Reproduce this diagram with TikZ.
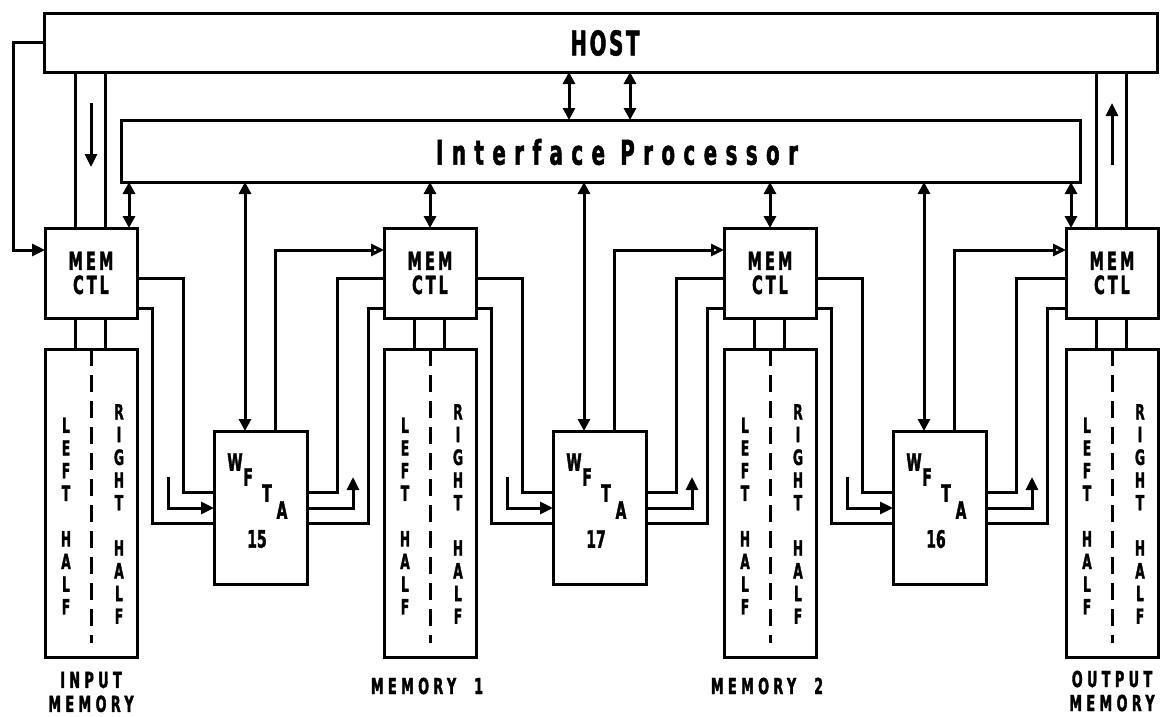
\documentclass[tikz,border=0pt]{standalone}
\usepackage{fontspec}
\newfontfamily\plotfont[FakeStretch=0.58, FakeBold=1.6]{DejaVu Sans}
\usetikzlibrary{arrows.meta, calc}

\tikzset{
  unit/.style={draw, inner sep=0pt, outer sep=0pt, anchor=north west},
  ctlbox/.style={unit, minimum width=92pt, minimum height=90pt, align=center,
    font=\plotfont\bfseries\fontsize{25}{24}\selectfont\addfontfeature{LetterSpace=12}},
  membox/.style={unit, minimum width=92pt, minimum height=308pt},
  wftabox/.style={unit, minimum width=93pt, minimum height=153pt},
  bigtext/.style={inner sep=0pt,
    font=\plotfont\bfseries\fontsize{34}{40}\selectfont\addfontfeature{LetterSpace=25}},
  hosttext/.style={inner sep=0pt,
    font=\plotfont\bfseries\fontsize{34}{40}\selectfont\addfontfeature{LetterSpace=8}},
  memlabel/.style={inner sep=0pt, align=center,
    font=\plotfont\bfseries\fontsize{22}{24}\selectfont\addfontfeature{LetterSpace=20}},
  vtext/.style={inner sep=0pt, align=center,
    font=\plotfont\bfseries\fontsize{21}{22.7}\selectfont},
  wlabel/.style={inner sep=0pt, font=\plotfont\bfseries\fontsize{24}{26}\selectfont},
  divider/.style={dash pattern=on 17pt off 9pt},
  tip/.style={-{Triangle[length=13pt,width=12pt]}},
  otip/.style={-{Triangle[open,length=13pt,width=12pt]}},
  dtip/.style={{Triangle[length=12pt,width=12pt]}-{Triangle[length=12pt,width=12pt]}}
}

\begin{document}
\begin{tikzpicture}[x=1pt, y=-1pt, line width=3pt]
    \useasboundingbox (0,0) rectangle (1163,716);

    % Host and interface processor buses
    \node[unit, minimum width=1113pt, minimum height=59pt] (host) at (44,13) {};
    \node[hosttext] (hostname) at (605,43) {HOST};
    \node[unit, minimum width=959pt, minimum height=62pt] (ip) at (121,120) {};
    \node[bigtext] (ipname) at (617,152) {Interface Processor};

    % Host <-> interface processor
    \coordinate (hp1) at ([xshift=-31.5pt]host.south);
    \coordinate (hp2) at ([xshift=29.5pt]host.south);
    \draw[dtip] (hp1) -- (hp1 |- ip.north);
    \draw[dtip] (hp2) -- (hp2 |- ip.north);

    % Memory controllers with their two-half memories
    \foreach \i/\L in {1/45, 2/384, 3/724, 4/1066} {
        \node[ctlbox] (c\i) at (\L,228) {MEM\\CTL};
        \node[membox] (m\i) at (\L,349) {};
        \draw[divider] (m\i.north) -- ([yshift=14pt]m\i.south);
        \node[vtext] (m\i l) at ([xshift=21pt,yshift=-13pt]m\i.west) {L\\E\\F\\T\\[22.7pt]H\\A\\L\\F};
        \node[vtext] (m\i r) at ([xshift=74pt,yshift=-11pt]m\i.west) {R\\I\\G\\H\\T\\[22.7pt]H\\A\\L\\F};
        \draw ([xshift=30pt]c\i.south west) -- ([xshift=30pt]m\i.north west);
        \draw ([xshift=60pt]c\i.south west) -- ([xshift=60pt]m\i.north west);
    }

    % Memory names
    \node[memlabel] (lbl1) at ([yshift=-35pt]m1.south) {INPUT\\MEMORY};
    \node[memlabel] (lbl2) at ([xshift=-3pt,yshift=-29pt]m2.south) {MEMORY\hspace{18pt}1};
    \node[memlabel] (lbl3) at ([xshift=-3pt,yshift=-29pt]m3.south) {MEMORY\hspace{18pt}2};
    \node[memlabel] (lbl4) at ([yshift=-34pt]m4.south) {OUTPUT\\MEMORY};

    % Controllers <-> interface processor
    \coordinate (cp1) at ([xshift=-8pt]c1.north east);
    \coordinate (cp2) at (c2.north);
    \coordinate (cp3) at (c3.north);
    \coordinate (cp4) at ([xshift=5pt]c4.north west);
    \foreach \k in {1,...,4}
        \draw[dtip] (cp\k) -- (cp\k |- ip.south);

    % Host buses into the input memory and out of the output memory
    \foreach \k in {1,4} {
        \foreach \d in {30,60} {
            \coordinate (hb) at ([xshift=\d pt]c\k.north west);
            \draw (hb) -- (hb |- host.south);
        }
    }
    \path (c1.north |- host.south) ++(0,31) coordinate (inA) ++(0,64) coordinate (inB);
    \draw[tip] (inA) -- (inB);
    \path (c4.north |- host.south) ++(0,31) coordinate (outB) ++(0,62) coordinate (outA);
    \draw[tip] (outA) -- (outB);

    % Host control loop into the first controller
    \draw[tip] (host.west) -- ++(-31,0) |- ([yshift=-22pt]c1.north west);

    % WFTA modules between the controllers
    \foreach \i/\j/\L/\n in {1/2/214/15, 2/3/553/17, 3/4/893/16} {
        \node[wftabox] (w\i) at (\L,431) {};
        \foreach \ch/\dx/\dy in {W/21/31, F/34/46, T/53/62, A/68/79}
            \node[wlabel] (w\i\ch) at ([xshift=\dx pt,yshift=-\dy pt]w\i.north west) {\ch};
        \node[wlabel] (w\i num) at ([xshift=43pt,yshift=-108pt]w\i.north west) {\n};

        % to the interface processor and on to the next controller
        \coordinate (wp\i) at ([xshift=31pt]w\i.north west);
        \coordinate (wq\i) at ([xshift=61pt]w\i.north west);
        \draw[dtip] (wp\i) -- (wp\i |- ip.south);
        \draw[otip] (wq\i) |- ([yshift=-22pt]c\j.north west);

        % inputs from the controller on the left
        \draw ([yshift=-50pt]c\i.north east) -| ([xshift=-31pt,yshift=-61pt]w\i.north west) -- ([yshift=-61pt]w\i.north west);
        \draw ([yshift=-80pt]c\i.north east) -| ([xshift=-62pt,yshift=-92pt]w\i.north west) -- ([yshift=-92pt]w\i.north west);
        \draw[tip] ([xshift=-46pt,yshift=-46pt]w\i.north west) |- ([yshift=-77pt]w\i.north west);

        % outputs to the controller on the right
        \draw ([yshift=-61pt]w\i.north east) -- ([xshift=30pt,yshift=-61pt]w\i.north east) |- ([yshift=-50pt]c\j.north west);
        \draw ([yshift=-92pt]w\i.north east) -- ([xshift=61pt,yshift=-92pt]w\i.north east) |- ([yshift=-80pt]c\j.north west);
        \draw[tip] ([yshift=-77pt]w\i.north east) -| ([xshift=46pt,yshift=-46pt]w\i.north east);
    }

\end{tikzpicture}
\end{document}
